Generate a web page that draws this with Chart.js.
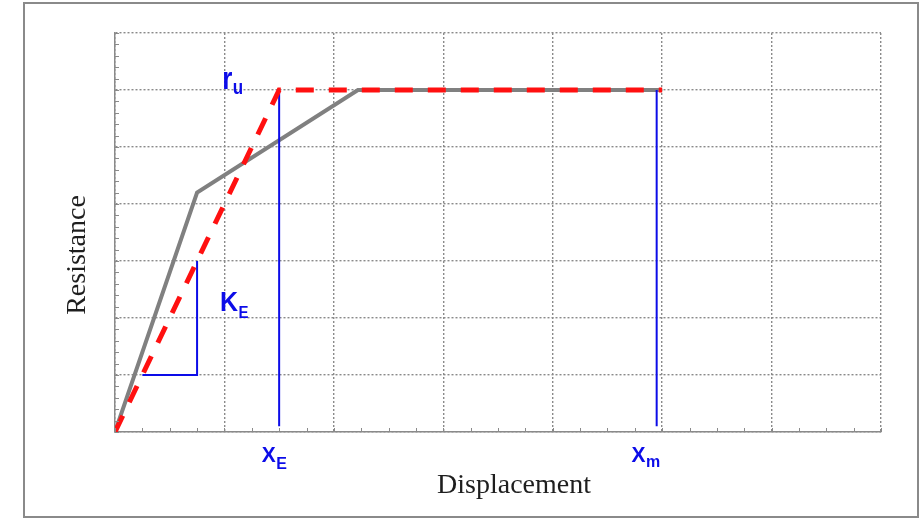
<!DOCTYPE html>
<html>
<head>
<meta charset="utf-8">
<script src="https://cdn.jsdelivr.net/npm/chart.js@4.4.1/dist/chart.umd.min.js"></script>
<style>
  html, body { margin: 0; padding: 0; background: #fff; }
  #wrap { position: relative; width: 921px; height: 518px; }
  #frame { position: absolute; left: 23px; top: 2px; width: 892px; height: 512px; border: 2px solid #8a8a8a; }
  #chart { position: absolute; left: 0; top: 0; }
</style>
</head>
<body>
<div id="wrap">
  <div id="frame"></div>
  <canvas id="chart" width="921" height="518"></canvas>
</div>
<script>
// resistance-displacement curves (arbitrary units)
const actualX = [0, 0.75, 2.22, 5];
const actualY = [0, 4.2, 6, 6];
const bilinearX = [0, 1.5, 5];
const bilinearY = [0, 6, 6];
// stiffness triangle
const triX = [0.25, 0.75, 0.75];
const triY = [1, 1, 3];
// vertical markers at X_E and X_m
const xeLineX = [1.5, 1.5];
const xmLineX = [4.95, 4.95];
const markerY = [6, 0.1];

const toPts = (xs, ys) => xs.map((x, i) => ({ x: x, y: ys[i] }));

const BLUE = '#0c0ce8';

// text annotations placed in data coordinates
const notes = [
  { x: 0.98, y: 6.02, main: 'r', sub: 'u', size: 26, subSize: 17, sy: 1.2, off: 5 },
  { x: 0.96, y: 2.12, main: 'K', sub: 'E', size: 25, subSize: 15, sy: 1.1, off: 7 },
  { x: 1.34, y: -0.53, main: 'X', sub: 'E', size: 21, subSize: 16, sy: 1.05, off: 7 },
  { x: 4.72, y: -0.53, main: 'X', sub: 'm', size: 21, subSize: 16, sy: 1.05, off: 5 }
];

// minor ticks on the axes + labels + axis titles
const decorations = {
  id: 'decorations',
  afterDraw(chart) {
    const ctx = chart.ctx;
    const xs = chart.scales.x, ys = chart.scales.y;
    const area = chart.chartArea;
    ctx.save();
    ctx.strokeStyle = '#8a8a8a';
    ctx.lineWidth = 1;
    ctx.beginPath();
    for (let v = 0; v <= 7.001; v += 0.25) {
      const px = Math.round(xs.getPixelForValue(v)) + 0.5;
      ctx.moveTo(px, area.bottom);
      ctx.lineTo(px, area.bottom - 4);
    }
    for (let v = 0; v <= 7.001; v += 0.2) {
      const py = Math.round(ys.getPixelForValue(v)) + 0.5;
      ctx.moveTo(area.left, py);
      ctx.lineTo(area.left + 4, py);
    }
    ctx.stroke();

    ctx.fillStyle = BLUE;
    ctx.textBaseline = 'alphabetic';
    notes.forEach(n => {
      const px = xs.getPixelForValue(n.x);
      const py = ys.getPixelForValue(n.y);
      ctx.save();
      ctx.translate(px, py);
      ctx.scale(1, n.sy);
      ctx.font = 'bold ' + n.size + 'px "Liberation Sans", Arial, sans-serif';
      ctx.fillText(n.main, 0, 0);
      const w = ctx.measureText(n.main).width;
      ctx.font = 'bold ' + n.subSize + 'px "Liberation Sans", Arial, sans-serif';
      ctx.fillText(n.sub, w + 0.5, n.off / n.sy);
      ctx.restore();
    });

    ctx.fillStyle = '#1e1e1e';
    ctx.font = '28px "Liberation Serif", "Times New Roman", serif';
    ctx.textAlign = 'center';
    ctx.fillText('Displacement', 514, 493);
    ctx.translate(85, 255);
    ctx.rotate(-Math.PI / 2);
    ctx.fillText('Resistance', 0, 0);
    ctx.restore();
  }
};

const axisOpts = {
  type: 'linear',
  min: 0,
  max: 7,
  ticks: { display: false, stepSize: 1 },
  grid: { color: '#8a8a8a', lineWidth: 1.4, drawTicks: false },
  border: { display: true, color: '#8a8a8a', width: 1.5, dash: [2, 2] }
};

new Chart(document.getElementById('chart'), {
  type: 'line',
  data: {
    datasets: [
      {
        data: toPts(bilinearX, bilinearY),
        borderColor: '#ff1010',
        borderWidth: 5,
        borderDash: [18, 15],
        order: 0
      },
      {
        data: toPts(xeLineX, markerY),
        borderColor: BLUE,
        borderWidth: 2,
        order: 1
      },
      {
        data: toPts(xmLineX, markerY),
        borderColor: BLUE,
        borderWidth: 2,
        order: 1
      },
      {
        data: toPts(triX, triY),
        borderColor: BLUE,
        borderWidth: 2,
        order: 1
      },
      {
        data: toPts(actualX, actualY),
        borderColor: '#808080',
        borderWidth: 4,
        order: 2
      }
    ]
  },
  options: {
    responsive: false,
    animation: false,
    devicePixelRatio: 1,
    parsing: false,
    elements: { point: { radius: 0 }, line: { tension: 0, borderCapStyle: 'butt', borderJoinStyle: 'miter' } },
    layout: { padding: { left: 115, top: 33, right: 40, bottom: 86 } },
    plugins: { legend: { display: false }, tooltip: { enabled: false } },
    scales: { x: axisOpts, y: axisOpts }
  },
  plugins: [decorations]
});
</script>
</body>
</html>
